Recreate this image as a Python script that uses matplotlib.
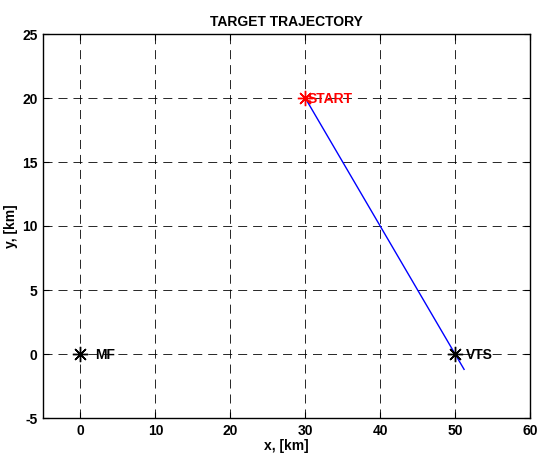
import matplotlib
matplotlib.use("Agg")
import matplotlib.pyplot as plt

# Trajectory of the target and reference points (km)
track_x = [30.0, 51.2]
track_y = [20.0, -1.2]
start_pt = (30.0, 20.0)
mf_pt = (0.0, 0.0)
vts_pt = (50.0, 0.0)
x_ticks = [0, 10, 20, 30, 40, 50, 60]
y_ticks = [-5, 0, 5, 10, 15, 20, 25]

plt.rcParams['font.family'] = ['Liberation Sans', 'DejaVu Sans']
plt.rcParams['font.weight'] = 'bold'
plt.rcParams['axes.unicode_minus'] = False

fig = plt.figure(figsize=(5.37, 4.55), dpi=100)
ax = fig.add_axes([43 / 537, 1 - 418 / 455, (530 - 43) / 537, (418 - 34) / 455])

ax.plot(track_x, track_y, color='#0000ff', lw=1.0, zorder=3)

star = (8, 2, 0)
ax.plot(*start_pt, marker=star, color='red', ms=11, mew=1.0, ls='none', zorder=4)
ax.plot(*mf_pt, marker=star, color='black', ms=11, mew=1.0, ls='none', zorder=4)
ax.plot(*vts_pt, marker=star, color='black', ms=11, mew=1.0, ls='none', zorder=4)

fs = 10
ax.text(start_pt[0] + 0.3, start_pt[1] - 0.1, 'START', color='red', fontsize=fs,
        fontweight='bold', va='center', ha='left', zorder=5)
ax.text(mf_pt[0] + 2.0, mf_pt[1] - 0.1, 'MF', color='black', fontsize=fs,
        fontweight='bold', va='center', ha='left', zorder=5)
ax.text(vts_pt[0] + 1.5, vts_pt[1] - 0.1, 'VTS', color='black', fontsize=fs,
        fontweight='bold', va='center', ha='left', zorder=5)

ax.set_xlim(-5, 60)
ax.set_ylim(-5, 25)
ax.set_xticks(x_ticks)
ax.set_yticks(y_ticks)
ax.tick_params(direction='in', top=True, right=True, length=4, width=0.8,
               labelsize=fs, pad=4)
for lab in ax.get_xticklabels() + ax.get_yticklabels():
    lab.set_fontweight('bold')

ax.grid(True, color='black', linestyle=(0, (9.3, 6.1)), linewidth=0.7, alpha=0.85)
for sp in ax.spines.values():
    sp.set_linewidth(1.0)

ax.set_title('TARGET TRAJECTORY', fontsize=fs, fontweight='bold', pad=6)
ax.set_xlabel('x, [km]', fontsize=fs, fontweight='bold', labelpad=1)
ax.set_ylabel('y, [km]', fontsize=fs, fontweight='bold', labelpad=3)

fig.savefig('out.png', dpi=100)
